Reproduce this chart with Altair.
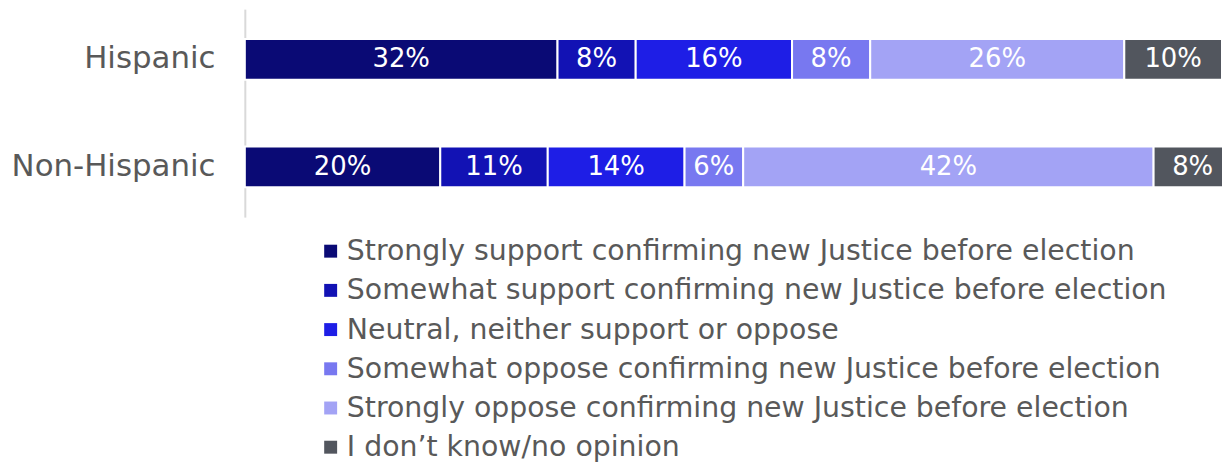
import altair as alt
import pandas as pd

groups = ["Hispanic", "Non-Hispanic"]
responses = [
    "Strongly support confirming new Justice before election",
    "Somewhat support confirming new Justice before election",
    "Neutral, neither support or oppose",
    "Somewhat oppose confirming new Justice before election",
    "Strongly oppose confirming new Justice before election",
    "I don\u2019t know/no opinion",
]
hispanic = [32, 8, 16, 8, 26, 10]
non_hispanic = [20, 11, 14, 6, 42, 8]
colors = ["#0A0A75", "#1212B4", "#1E1EE6", "#7878F0", "#A3A3F5", "#52565E"]

rows = []
for g, vals in zip(groups, [hispanic, non_hispanic]):
    for i, (r, v) in enumerate(zip(responses, vals)):
        rows.append({"group": g, "response": r, "order": i, "value": v})
df = pd.DataFrame(rows)

FONT = "DejaVu Sans"

base = alt.Chart(df).transform_stack(
    stack="value", groupby=["group"], as_=["x0", "x1"],
    sort=[alt.SortField("order", order="ascending")]
).transform_calculate(mid="(datum.x0 + datum.x1) / 2", label="datum.value + '%'")

yscale = alt.Scale(domain=groups, paddingInner=0.62, paddingOuter=0.278)
yenc = alt.Y("group:N", sort=groups, title=None, scale=yscale,
             axis=alt.Axis(labelFontSize=31, labelColor="#595959", labelFont=FONT,
                           labelPadding=30, ticks=False, domainColor="#D9D9D9",
                           domainWidth=2, labelLimit=400))

bars = base.mark_bar(stroke="white", strokeWidth=2).encode(
    x=alt.X("x0:Q", scale=alt.Scale(domain=[0, 100]), axis=None),
    x2="x1:Q",
    y=yenc,
    color=alt.Color("response:N", sort=responses,
                    scale=alt.Scale(domain=responses, range=colors),
                    legend=alt.Legend(title=None, orient="none", legendX=72, legendY=229,
                                      symbolType="square", symbolSize=169,
                                      symbolStrokeWidth=0, labelFontSize=28.5,
                                      labelFont=FONT, labelColor="#595959",
                                      rowPadding=10.4, labelOffset=2, labelLimit=1000,
                                      padding=0)),
)

labels = base.mark_text(color="white", fontSize=26, font=FONT, baseline="middle").encode(
    x=alt.X("mid:Q", scale=alt.Scale(domain=[0, 100]), axis=None),
    y=alt.Y("group:N", sort=groups, scale=yscale),
    text="label:N",
)

chart = alt.layer(bars, labels).properties(
    width=982, height=209,
    autosize=alt.AutoSizeParams(type="none"),
    padding={"left": 238, "top": 0, "right": 0, "bottom": 246},
).configure_view(stroke=None)

chart.save("out.html", embed_options={"renderer": "svg", "actions": False})
